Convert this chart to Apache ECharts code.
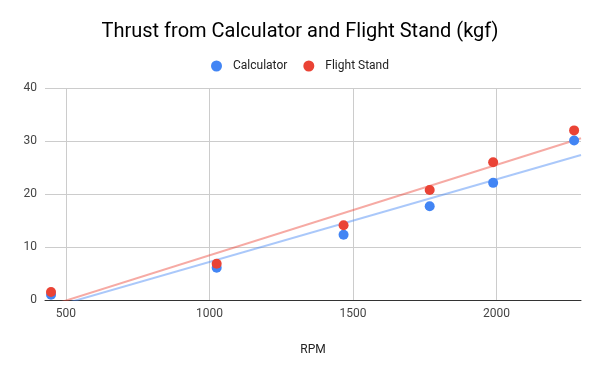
<!DOCTYPE html>
<html><head><meta charset="utf-8">
<script src="https://cdn.jsdelivr.net/npm/echarts@6/dist/echarts.min.js"></script>
<style>html,body{margin:0;padding:0;background:#fff}#c{width:600px;height:371px}</style>
</head><body><div id="c"></div>
<script>
const rpm = [448, 1025, 1467, 1767, 1988, 2270];
const calculator = [1.0, 6.1, 12.3, 17.7, 22.1, 30.1];
const flightStand = [1.5, 6.85, 14.1, 20.75, 26.0, 32.0];
const seriesNames = ['Calculator', 'Flight Stand'];
const xMin = 427, xMax = 2294;

function fit(xs, ys) {
  const n = xs.length;
  const mx = xs.reduce((a, b) => a + b, 0) / n;
  const my = ys.reduce((a, b) => a + b, 0) / n;
  let sxy = 0, sxx = 0;
  for (let i = 0; i < n; i++) { sxy += (xs[i] - mx) * (ys[i] - my); sxx += (xs[i] - mx) ** 2; }
  const b = sxy / sxx, a = my - b * mx;
  return [[xMin, a + b * xMin], [xMax, a + b * xMax]];
}
const pairs = (xs, ys) => xs.map((x, i) => [x, ys[i]]);

const chart = echarts.init(document.getElementById('c'));
chart.setOption({
  animation: false,
  title: { text: 'Thrust from Calculator and Flight Stand (kgf)', left: 'center', top: 17,
    textStyle: { fontFamily: 'Roboto', fontSize: 20, fontWeight: 'normal', color: '#000' } },
  legend: { data: seriesNames, top: 55, left: 'center', icon: 'circle', itemWidth: 11, itemHeight: 11, itemGap: 16,
    textStyle: { fontFamily: 'Roboto', fontSize: 12, color: '#222', padding: [0, 0, 0, 6] } },
  grid: { left: 45, right: 19, top: 88, bottom: 71 },
  xAxis: { type: 'value', min: xMin, max: xMax, splitNumber: 4,
    name: 'RPM', nameLocation: 'middle', nameGap: 44,
    nameTextStyle: { fontFamily: 'Roboto', fontSize: 12, color: '#222' },
    axisLine: { show: true, lineStyle: { color: '#333' } }, axisTick: { show: false },
    axisLabel: { showMinLabel: false, showMaxLabel: false, fontFamily: 'Roboto', fontSize: 12, color: '#444', margin: 8,
      formatter: v => String(v) },
    splitLine: { show: true, showMinLine: false, showMaxLine: false, lineStyle: { color: '#ccc' } } },
  yAxis: { type: 'value', min: 0, max: 40, interval: 10,
    axisLine: { show: false }, axisTick: { show: false },
    axisLabel: { fontFamily: 'Roboto', fontSize: 12, color: '#444', margin: 8 },
    splitLine: { lineStyle: { color: '#ccc' } } },
  series: [
    { name: 'Calculator trend', type: 'line', data: fit(rpm, calculator), symbol: 'none', silent: true, z: 1,
      lineStyle: { color: '#4285f4', opacity: 0.45, width: 2 } },
    { name: 'Flight Stand trend', type: 'line', data: fit(rpm, flightStand), symbol: 'none', silent: true, z: 1,
      lineStyle: { color: '#ea4335', opacity: 0.45, width: 2 } },
    { name: 'Calculator', type: 'scatter', data: pairs(rpm, calculator), symbolSize: 10, z: 3,
      itemStyle: { color: '#4285f4', opacity: 1 } },
    { name: 'Flight Stand', type: 'scatter', data: pairs(rpm, flightStand), symbolSize: 10, z: 4,
      itemStyle: { color: '#ea4335', opacity: 1 } }
  ]
});
</script></body></html>
